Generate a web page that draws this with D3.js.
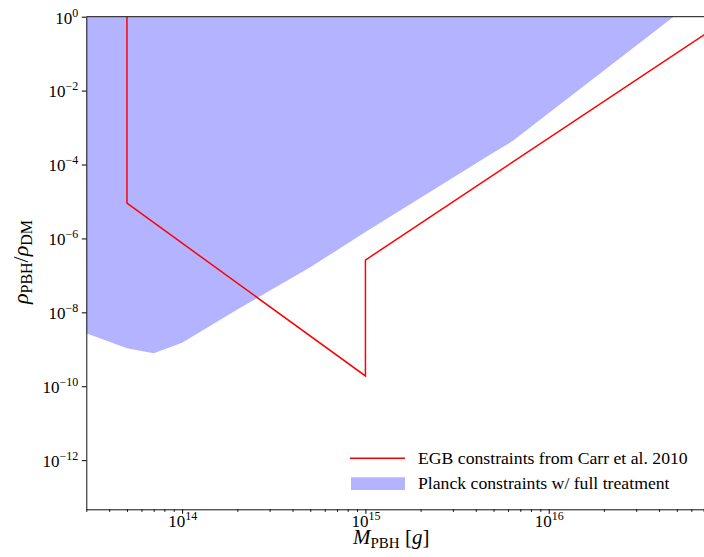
<!DOCTYPE html>
<html>
<head>
<meta charset="utf-8">
<script src="https://cdn.jsdelivr.net/npm/d3@7"></script>
<style>
  body { margin: 0; background: #fff; }
  svg { display: block; }
  svg text { font-family: "Liberation Serif", "DejaVu Serif", serif; }
</style>
</head>
<body>
<div class="container"></div>
<script>
const WIDTH = 704,
    HEIGHT = 557,
    LEFT = 86.3,
    RIGHT = 732,
    TOP = 16.7,
    BOTTOM = 509.3;

// EGB constraints from Carr et al. 2010 (red line)
const egbMass = [5e13, 5e13, 1e15, 1e15, 1e17];
const egbFrac = [1, 9e-6, 1.9e-10, 2.6e-7, 1.03];

// Planck constraints w/ full treatment (lower edge of shaded region)
const planckMass = [3e13, 5e13, 7e13, 1e14, 2e14, 5e14, 1e15, 2e15, 5e15, 6.3e15, 4.8e16];
const planckFrac = [2.7e-9, 1.06e-9, 7.8e-10, 1.5e-9, 1.2e-8, 1.65e-7, 1.5e-6, 1.26e-5, 2.1e-4, 4.2e-4, 1];

const xTickExp = [14, 15, 16];
const yTickExp = [0, -2, -4, -6, -8, -10, -12];
const legendLabels = ['EGB constraints from Carr et al. 2010', 'Planck constraints w/ full treatment'];

const xScale = d3.scaleLog().domain([3e13, 1e17]).range([LEFT, RIGHT]);
const yScale = d3.scaleLog().domain([Math.pow(10, -13.33), 1]).range([BOTTOM, TOP]);

const sup = (t) => t.replace('-', '\u2212');

var svg = d3.select('.container').append('svg')
    .attr('width', WIDTH)
    .attr('height', HEIGHT);

svg.append('clipPath').attr('id', 'plot')
    .append('rect')
    .attr('x', LEFT).attr('y', TOP)
    .attr('width', RIGHT - LEFT).attr('height', BOTTOM - TOP);

var plot = svg.append('g').attr('clip-path', 'url(#plot)');

var planck = planckMass.map((m, i) => [m, planckFrac[i]]);
var area = d3.area()
    .x(d => xScale(d[0]))
    .y0(yScale(1))
    .y1(d => yScale(d[1]));
plot.append('path')
    .attr('d', area(planck))
    .attr('fill', 'rgb(179,179,255)');

var egb = egbMass.map((m, i) => [m, egbFrac[i]]);
var line = d3.line()
    .x(d => xScale(d[0]))
    .y(d => yScale(d[1]));
plot.append('path')
    .attr('d', line(egb))
    .attr('fill', 'none')
    .attr('stroke', 'red')
    .attr('stroke-width', 1.5);

// x axis: minor ticks then major ticks
var minors = [];
[13, 14, 15, 16].forEach(e => {
    for (let k = 2; k <= 9; k++) minors.push(k * Math.pow(10, e));
});
svg.append('g')
    .attr('transform', `translate(0,${BOTTOM})`)
    .call(d3.axisBottom(xScale).tickValues(minors.filter(v => v >= 3e13 && v <= 1e17))
        .tickSize(2.5).tickSizeOuter(0).tickFormat(''))
    .call(g => g.select('.domain').remove());

var xAxis = svg.append('g')
    .attr('transform', `translate(0,${BOTTOM})`)
    .call(d3.axisBottom(xScale).tickValues(xTickExp.map(e => Math.pow(10, e)))
        .tickSize(4.5).tickSizeOuter(0).tickPadding(0))
    .attr('font-family', null);
xAxis.select('.domain').attr('stroke', '#111').attr('stroke-width', 1);
xAxis.selectAll('.tick text').text(null)
    .attr('y', 17.7).attr('dy', null)
    .attr('font-size', 17).attr('fill', '#000')
    .each(function(d, i) {
        var t = d3.select(this);
        t.append('tspan').text('10');
        t.append('tspan').attr('dy', -7).attr('font-size', 12).text(String(xTickExp[i]));
    });

var yAxis = svg.append('g')
    .attr('transform', `translate(${LEFT},0)`)
    .call(d3.axisLeft(yScale).tickValues(yTickExp.map(e => Math.pow(10, e)))
        .tickSize(4.5).tickSizeOuter(0).tickPadding(3.5))
    .attr('font-family', null);
yAxis.select('.domain').attr('stroke', '#111').attr('stroke-width', 1);
yAxis.selectAll('.tick text').text(null)
    .attr('dy', 6.3)
    .attr('font-size', 17).attr('fill', '#000')
    .each(function(d, i) {
        var t = d3.select(this);
        t.append('tspan').text('10');
        t.append('tspan').attr('dy', -7).attr('font-size', 12).text(sup(String(yTickExp[i])));
    });

svg.append('line')
    .attr('x1', LEFT).attr('x2', RIGHT)
    .attr('y1', TOP).attr('y2', TOP)
    .attr('stroke', '#111').attr('stroke-width', 1);

// axis titles
var xTitle = svg.append('text')
    .attr('x', 353).attr('y', 544)
    .attr('font-size', 21);
xTitle.append('tspan').attr('font-style', 'italic').text('M');
xTitle.append('tspan').attr('font-size', 15).attr('dy', 3.5).text('PBH');
xTitle.append('tspan').attr('dy', -3.5).text(' [');
xTitle.append('tspan').attr('font-style', 'italic').text('g');
xTitle.append('tspan').text(']');

var yTitle = svg.append('text')
    .attr('transform', 'translate(28,262) rotate(-90)')
    .attr('text-anchor', 'middle')
    .attr('font-size', 22);
yTitle.append('tspan').attr('font-style', 'italic').text('\u03c1');
yTitle.append('tspan').attr('font-size', 16).attr('dy', 3.5).text('PBH');
yTitle.append('tspan').attr('dy', -3.5).text('/');
yTitle.append('tspan').attr('font-style', 'italic').text('\u03c1');
yTitle.append('tspan').attr('font-size', 16).attr('dy', 3.5).text('DM');

// legend
var legend = svg.append('g');
legend.append('line')
    .attr('x1', 350).attr('x2', 405)
    .attr('y1', 458.3).attr('y2', 458.3)
    .attr('stroke', 'red').attr('stroke-width', 1.5);
legend.append('rect')
    .attr('x', 351).attr('y', 477.3)
    .attr('width', 54).attr('height', 12.7)
    .attr('fill', 'rgb(179,179,255)');
legend.selectAll('text.label')
    .data(legendLabels)
    .enter().append('text')
    .classed('label', true)
    .attr('x', 418)
    .attr('y', (d, i) => 464 + i * 24.5)
    .attr('font-size', 17.7)
    .text(d => d);
</script>
</body>
</html>
